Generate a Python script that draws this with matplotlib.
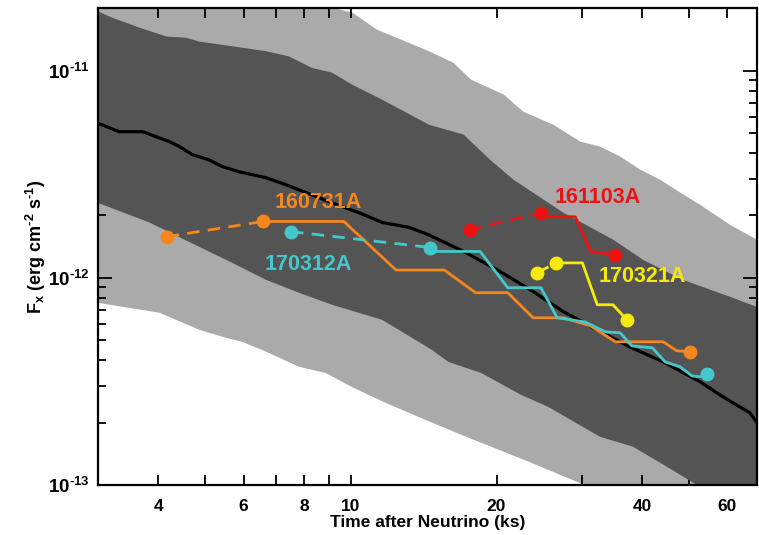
import matplotlib
matplotlib.use('Agg')
import matplotlib.pyplot as plt
from matplotlib.ticker import LogLocator, NullFormatter

plt.rcParams['font.family'] = ['Liberation Sans', 'DejaVu Sans']
plt.rcParams['font.weight'] = 'bold'
plt.rcParams['mathtext.fontset'] = 'custom'
plt.rcParams['mathtext.rm'] = 'Liberation Sans:bold'
plt.rcParams['mathtext.it'] = 'Liberation Sans:bold'
plt.rcParams['mathtext.bf'] = 'Liberation Sans:bold'

# median expected afterglow flux (ks, erg/cm2/s)
med_t = [3.02, 3.32, 3.71, 4.22, 4.42, 4.70, 5.09, 5.42, 5.87, 6.68, 7.35, 8.07,
         9.14, 10.4, 11.6, 13.2, 14.5, 17.1, 20.1, 23.5, 27.5, 32.3, 37.7, 44.2,
         52.7, 57.1, 61.6, 66.8, 69.0]
med_f = [5.54e-12, 5.07e-12, 5.07e-12, 4.54e-12, 4.30e-12, 3.93e-12, 3.71e-12,
         3.44e-12, 3.25e-12, 3.04e-12, 2.81e-12, 2.58e-12, 2.30e-12, 2.06e-12,
         1.85e-12, 1.75e-12, 1.61e-12, 1.34e-12, 1.09e-12, 8.75e-13, 6.86e-13,
         5.61e-13, 4.64e-13, 3.93e-13, 3.15e-13, 2.78e-13, 2.49e-13, 2.23e-13,
         2.01e-13]

# outer (light) band edges
out_hi_t = [3.0, 9.14, 10.05, 11.3, 12.0, 14.5, 16.3, 17.7, 20.7, 22.7, 26.2, 29.8,
            32.7, 36.0, 39.6, 43.6, 47.9, 52.7, 60.8, 69.0]
out_hi_f = [7.0e-11, 2.01e-11, 1.91e-11, 1.58e-11, 1.49e-11, 1.24e-11, 1.09e-11,
            9.05e-12, 7.66e-12, 6.34e-12, 5.48e-12, 4.54e-12, 4.30e-12, 3.85e-12,
            3.33e-12, 2.97e-12, 2.58e-12, 2.25e-12, 1.80e-12, 1.53e-12]
out_lo_t = [3.0, 4.02, 4.86, 5.52, 5.96, 6.68, 7.81, 8.88, 10.05, 11.8, 14.7, 17.3,
            20.2, 23.6, 29.5, 36.0, 69.0]
out_lo_f = [7.57e-13, 6.78e-13, 5.61e-13, 5.13e-13, 4.91e-13, 4.40e-13, 3.72e-13,
            3.47e-13, 2.97e-13, 2.49e-13, 2.00e-13, 1.71e-13, 1.48e-13, 1.28e-13,
            1.03e-13, 8.0e-14, 3.9e-14]

# inner (dark) band edges
in_hi_t = [3.0, 3.21, 3.66, 4.16, 4.57, 4.86, 5.69, 6.68, 7.45, 8.31, 9.14, 10.05,
           11.6, 14.5, 17.1, 19.4, 21.7, 27.5, 34.8, 40.2, 48.6, 60.8, 69.0]
in_hi_f = [1.93e-11, 1.80e-11, 1.61e-11, 1.46e-11, 1.44e-11, 1.38e-11, 1.31e-11,
           1.24e-11, 1.17e-11, 1.03e-11, 9.78e-12, 8.56e-12, 7.24e-12, 5.48e-12,
           4.91e-12, 3.71e-12, 2.97e-12, 2.06e-12, 1.53e-12, 1.22e-12, 9.77e-13,
           8.09e-13, 7.24e-13]
in_lo_t = [3.0, 3.83, 4.86, 5.69, 6.68, 7.81, 9.14, 11.6, 14.7, 15.9, 18.6, 22.5,
           25.6, 32.7, 38.3, 45.1, 52.7, 69.0]
in_lo_f = [2.30e-12, 1.85e-12, 1.41e-12, 1.18e-12, 9.77e-13, 8.47e-13, 7.41e-13,
           6.27e-13, 4.49e-13, 3.93e-13, 3.47e-13, 2.72e-13, 2.38e-13, 1.71e-13,
           1.53e-13, 1.22e-13, 9.8e-14, 6.8e-14]

# neutrino follow-up light curves: (dashed part, solid part)
a160731_dash_t = [4.16, 6.59]
a160731_dash_f = [1.58e-12, 1.87e-12]
a160731_t = [6.59, 9.67, 12.4, 15.6, 18.1, 21.1, 23.8, 27.5, 31.3, 35.2, 44.2, 47.2, 50.2]
a160731_f = [1.87e-12, 1.87e-12, 1.09e-12, 1.09e-12, 8.47e-13, 8.47e-13, 6.41e-13,
             6.41e-13, 5.86e-13, 4.91e-13, 4.91e-13, 4.44e-13, 4.40e-13]

a170312_dash_t = [7.52, 14.6]
a170312_dash_f = [1.67e-12, 1.40e-12]
a170312_t = [14.6, 18.5, 21.1, 24.7, 26.7, 30.5, 33.6, 36.0, 38.1, 42.0, 44.6, 47.9,
             50.7, 52.7, 54.5]
a170312_f = [1.34e-12, 1.34e-12, 8.95e-13, 8.95e-13, 6.41e-13, 6.12e-13, 5.48e-13,
             5.43e-13, 4.69e-13, 4.59e-13, 3.93e-13, 3.72e-13, 3.36e-13, 3.33e-13,
             3.44e-13]

a161103_dash_t = [17.6, 24.7]
a161103_dash_f = [1.71e-12, 2.06e-12]
a161103_t = [24.7, 29.1, 31.3, 35.2]
a161103_f = [1.97e-12, 1.97e-12, 1.34e-12, 1.29e-12]

a170321_dash_t = [24.3, 26.6]
a170321_dash_f = [1.06e-12, 1.18e-12]
a170321_t = [26.6, 30.1, 32.3, 34.8, 37.2]
a170321_f = [1.18e-12, 1.18e-12, 7.41e-13, 7.41e-13, 6.27e-13]

names = ['160731A', '170312A', '161103A', '170321A']
colors = ['#f7861c', '#45c8cc', '#ee1111', '#f5ea0a']
label_t = [8.55, 8.15, 32.3, 40.0]
label_f = [2.30e-12, 1.16e-12, 2.44e-12, 1.01e-12]

fig = plt.figure(figsize=(7.59, 5.35), dpi=100)
ax = fig.add_axes([0.129, 0.0935, 0.868, 0.892])
ax.set_xscale('log')
ax.set_yscale('log')

ax.fill(out_hi_t + out_lo_t[::-1], out_hi_f + out_lo_f[::-1], color='#aaaaaa', lw=0, zorder=1)
ax.fill(in_hi_t + in_lo_t[::-1], in_hi_f + in_lo_f[::-1], color='#545454', lw=0, zorder=2)
ax.plot(med_t, med_f, color='black', lw=2.3, zorder=3)

curves = [
    (a160731_dash_t, a160731_dash_f, a160731_t, a160731_f),
    (a170312_dash_t, a170312_dash_f, a170312_t, a170312_f),
    (a161103_dash_t, a161103_dash_f, a161103_t, a161103_f),
    (a170321_dash_t, a170321_dash_f, a170321_t, a170321_f),
]
for (dt, df, st, sf), c, name, lt, lf in zip(curves, colors, names, label_t, label_f):
    ax.plot(dt, df, color=c, lw=2, dashes=(4.5, 3), zorder=4)
    ax.plot(st, sf, color=c, lw=2, zorder=4)
    ax.plot([dt[0], dt[-1], st[-1]], [df[0], df[-1], sf[-1]], 'o', color=c, ms=9, zorder=5)
    ax.text(lt, lf, name, color=c, fontsize=15.5, fontweight='bold', ha='center', va='center', zorder=6)

ax.set_xlim(3.0, 69.0)
ax.set_ylim(1e-13, 2.01e-11)

ax.set_xticks([4, 6, 8, 10, 20, 40, 60])
ax.set_xticklabels(['4', '6', '8', '10', '20', '40', '60'])
ax.set_xticks([5, 7, 9, 30, 50], minor=True)
ax.xaxis.set_minor_formatter(NullFormatter())
ax.set_yticks([1e-13, 1e-12, 1e-11])
ax.set_yticklabels([r'$10^{\text{-13}}$', r'$10^{\text{-12}}$', r'$10^{\text{-11}}$'])
ax.yaxis.set_minor_locator(LogLocator(base=10, subs=range(2, 10)))
ax.yaxis.set_minor_formatter(NullFormatter())

ax.tick_params(which='both', direction='in', top=True, right=True, width=1.3, labelsize=12.5)
ax.tick_params(axis='x', which='both', length=7, pad=10)
ax.tick_params(axis='y', which='major', length=10, pad=6, labelsize=13.5)
ax.tick_params(axis='y', which='minor', length=6)
for s in ax.spines.values():
    s.set_linewidth(1.6)
    s.set_zorder(10)

ax.set_xlabel('Time after Neutrino (ks)', fontsize=12.5, fontweight='bold', labelpad=1)
ax.set_ylabel(r'F$_\mathrm{x}$ (erg cm$^{\text{-2}}$ s$^{\text{-1}}$)', fontsize=13, fontweight='bold', labelpad=0)

fig.savefig('out.png', dpi=100)
